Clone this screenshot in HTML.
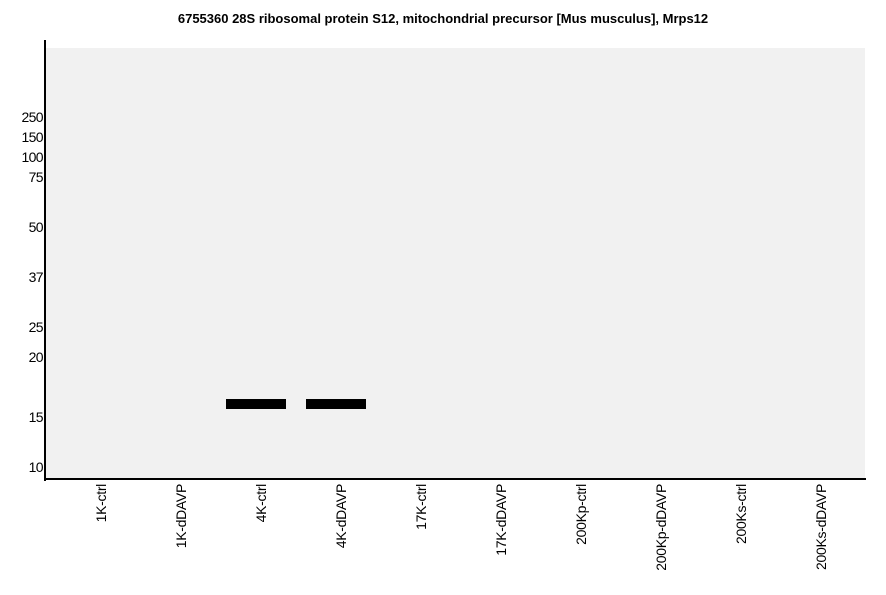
<!DOCTYPE html>
<html><head><style>
body{margin:0;width:886px;height:595px;background:#fff;font-family:"Liberation Sans",sans-serif;position:relative;overflow:hidden}
.t{position:absolute;top:11px;left:0;width:886px;text-align:center;font-weight:bold;font-size:13px}
.y{position:absolute;right:843px;font-size:14px;line-height:14px;letter-spacing:-0.6px}
.x{position:absolute;top:484px;font-size:14px;line-height:14px;transform-origin:0 0;transform:rotate(-90deg) translateX(-100%);white-space:nowrap;text-align:right;letter-spacing:-0.3px}
.b{position:absolute;background:#000}
</style></head><body>
<div class="t">6755360 28S ribosomal protein S12, mitochondrial precursor [Mus musculus], Mrps12</div>
<div style="position:absolute;left:46px;top:48px;width:819px;height:430px;background:#f1f1f1"></div>
<div class="b" style="left:44px;top:40px;width:2px;height:441px"></div>
<div class="b" style="left:44px;top:478px;width:822px;height:2px"></div>
<div class="b" style="left:226px;top:399px;width:60px;height:10px"></div>
<div class="b" style="left:306px;top:399px;width:60px;height:10px"></div>
<div class="y" style="top:110px">250</div>
<div class="y" style="top:130px">150</div>
<div class="y" style="top:150px">100</div>
<div class="y" style="top:170px">75</div>
<div class="y" style="top:220px">50</div>
<div class="y" style="top:270px">37</div>
<div class="y" style="top:320px">25</div>
<div class="y" style="top:350px">20</div>
<div class="y" style="top:410px">15</div>
<div class="y" style="top:460px">10</div>
<div class="x" style="left:94px">1K-ctrl</div>
<div class="x" style="left:174px">1K-dDAVP</div>
<div class="x" style="left:254px">4K-ctrl</div>
<div class="x" style="left:334px">4K-dDAVP</div>
<div class="x" style="left:414px">17K-ctrl</div>
<div class="x" style="left:494px">17K-dDAVP</div>
<div class="x" style="left:574px">200Kp-ctrl</div>
<div class="x" style="left:654px">200Kp-dDAVP</div>
<div class="x" style="left:734px">200Ks-ctrl</div>
<div class="x" style="left:814px">200Ks-dDAVP</div>
</body></html>
